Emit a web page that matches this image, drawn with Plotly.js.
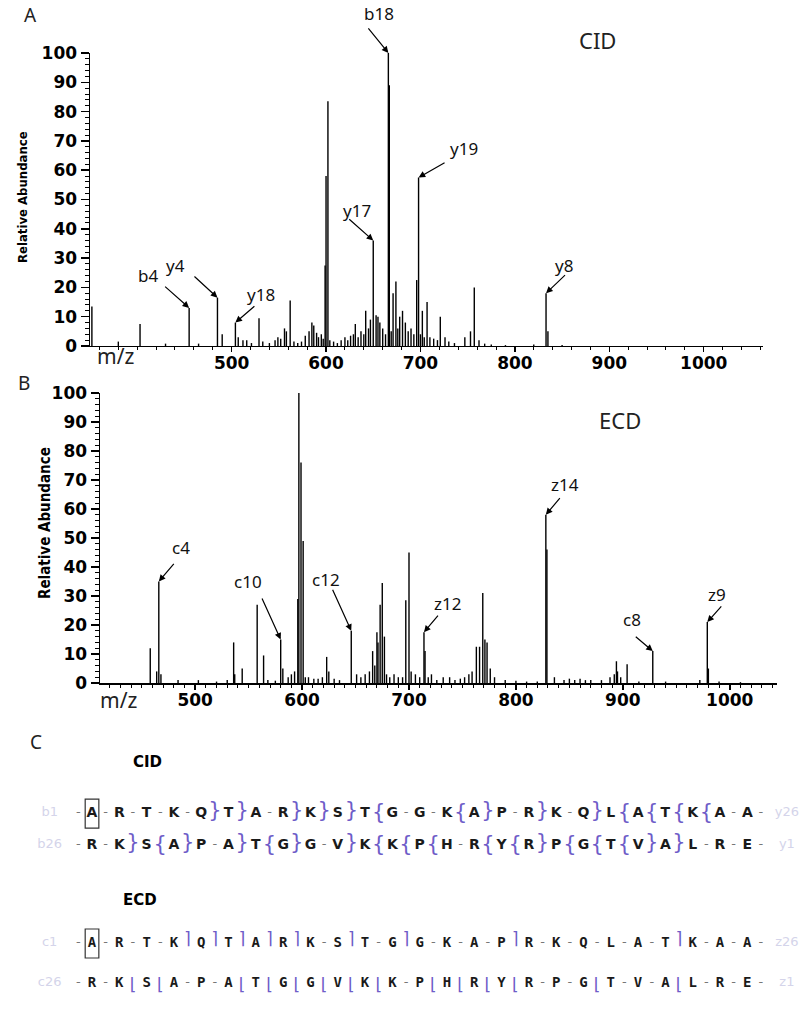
<!DOCTYPE html>
<html>
<head>
<meta charset="utf-8">
<script src="https://cdn.plot.ly/plotly-3.0.1.min.js"></script>
<style>
  body { margin: 0; background: #fff; }
  #plot { width: 800px; height: 1017px; }
</style>
</head>
<body>
<div id="plot"></div>
<script>
// CID spectrum (panel A): m/z and relative abundance
var cidMz = [352, 380, 403, 430, 455, 465, 485, 490, 504, 507, 512, 516, 521, 529, 533, 540, 546, 549, 552, 556,
  558, 562, 566, 570, 574, 578, 582, 585, 587, 590, 592, 595, 597, 599, 600, 602, 604, 608, 612, 616,
  620, 623, 626, 629, 631, 634, 637, 640, 642, 645, 647, 650, 653, 655, 657, 660, 663, 666, 667, 669,
  671, 674, 676, 678, 681, 684, 687, 690, 693, 696, 698, 700, 702, 704, 707, 710, 714, 718, 721, 726,
  730, 736, 747, 753, 757, 762, 768, 775, 790, 820, 833, 835, 850];
var cidInt = [13.5, 1.5, 7.5, 0.8, 13, 0.8, 16.5, 4, 8, 3, 2, 2, 1, 9.5, 1.5, 1, 2, 3, 2.5, 6,
  5, 15.5, 1.5, 1, 1.5, 3.5, 5, 8, 7, 4.5, 3, 4, 2.5, 27.5, 58, 83.5, 2, 1.5, 1, 2,
  3, 2, 3.5, 4, 7.5, 3, 5, 4, 12, 6, 9, 36, 10.5, 10, 8, 6, 4, 100, 89, 5,
  18, 22, 6, 10, 12, 8, 5, 6, 4, 22.5, 57.5, 4, 12, 3, 15, 3, 2.5, 2, 10, 3,
  1.5, 1, 3, 5, 20, 2, 0.8, 0.5, 0.3, 0.5, 18, 5, 0.3];

// ECD spectrum (panel B)
var ecdMz = [458, 464, 466, 468, 484, 503, 520, 530, 536, 537, 544, 558, 564, 568, 575, 580, 582, 587, 590, 593,
  596, 597, 599, 601, 603, 606, 611, 615, 619, 623, 625, 630, 635, 646, 651, 655, 659, 663, 666, 668,
  670, 671, 673, 675, 677, 679, 682, 686, 690, 694, 697, 700, 702, 706, 710, 714, 715, 718, 721, 726,
  732, 738, 743, 748, 752, 756, 759, 763, 766, 769, 771, 773, 776, 780, 790, 800, 810, 820, 828, 829,
  836, 845, 850, 855, 860, 865, 870, 880, 888, 892, 894, 895, 898, 904, 915, 928, 940, 972, 979, 980,
  990, 1010];
var ecdInt = [12, 4, 35, 3, 1, 1, 0.5, 1, 14, 3, 5, 27, 9.5, 1, 0.8, 15, 5, 2, 3, 4,
  29, 100, 76, 49, 2, 2, 1.5, 1.5, 2, 9, 4, 1.5, 1, 18, 3, 2, 3, 4, 11, 6,
  17.5, 14, 27, 34.5, 16, 3, 2, 3, 2, 2, 28.5, 45, 4, 3, 2, 17.5, 11, 2, 3, 1,
  2, 2, 1, 1.5, 2, 3, 4, 12.5, 12.5, 31, 15, 14, 5, 2, 1, 0.8, 0.5, 0.5, 58, 46,
  2, 1, 1.5, 1, 1.5, 1, 1, 1, 2, 3, 7.5, 4, 2, 6.5, 0.5, 11, 0.5, 1, 21, 5,
  0.5, 0.3];

// annotated fragment ions
var cidIons = ['b4', 'y4', 'y18', 'y17', 'b18', 'y19', 'y8'];
var cidIonMz = [455, 485, 504, 650, 666, 698, 833];
var cidIonInt = [13, 16.5, 8, 36, 100, 57.5, 18];
var ecdIons = ['c4', 'c10', 'c12', 'z12', 'z14', 'c8', 'z9'];
var ecdIonMz = [466, 580, 646, 714, 828, 928, 979];
var ecdIonInt = [35, 15, 18, 17.5, 58, 11, 21];

// panel C: sequence and cleavage sites
var seqRow1 = ['A','R','T','K','Q','T','A','R','K','S','T','G','G','K','A','P','R','K','Q','L','A','T','K','A','A'];
var seqRow2 = ['R','K','S','A','P','A','T','G','G','V','K','K','P','H','R','Y','R','P','G','T','V','A','L','R','E'];
var cidGaps1 = ['-','-','-','-','b','b','-','b','b','b','y','-','-','y','b','-','b','-','b','y','y','y','y','-'];
var cidGaps2 = ['-','b','y','b','-','b','y','b','-','b','y','y','y','-','y','y','b','y','y','y','b','b','-','-'];
var ecdGaps1 = ['-','-','-','c','c','c','c','c','-','c','-','c','-','-','-','c','-','-','-','-','-','c','-','-'];
var ecdGaps2 = ['-','z','z','-','-','z','z','z','z','z','z','-','z','z','z','z','-','-','z','-','-','z','-','-'];
var endLabels = [['b1', 'y26'], ['b26', 'y1'], ['c1', 'z26'], ['c26', 'z1']];

var glyph = { '-': '-', 'b': '}', 'y': '{', 'c': '\u2309', 'z': '\u230A' };
var lift = { 'b': 1, 'y': -1, 'c': 3, 'z': -3 };
var purple = '#6e5cc8';

function sticks(mz, inten) {
  var xs = [], ys = [];
  for (var i = 0; i < mz.length; i++) {
    xs.push(mz[i], mz[i], null);
    ys.push(0, inten[i], null);
  }
  return { x: xs, y: ys };
}

var a = sticks(cidMz, cidInt);
var b = sticks(ecdMz, ecdInt);
var data = [
  { x: a.x, y: a.y, xaxis: 'x', yaxis: 'y', type: 'scatter', mode: 'lines',
    line: { color: '#000', width: 1.4 }, cliponaxis: false, hoverinfo: 'skip' },
  { x: b.x, y: b.y, xaxis: 'x2', yaxis: 'y2', type: 'scatter', mode: 'lines',
    line: { color: '#000', width: 1.4 }, cliponaxis: false, hoverinfo: 'skip' }
];

// sequence rows
var rowY = [204, 172, 74, 34];
var rows = [
  { seq: seqRow1, gaps: cidGaps1, font: 'DejaVu Sans', markSize: 21 },
  { seq: seqRow2, gaps: cidGaps2, font: 'DejaVu Sans', markSize: 21 },
  { seq: seqRow1, gaps: ecdGaps1, font: 'DejaVu Sans Mono', markSize: 17 },
  { seq: seqRow2, gaps: ecdGaps2, font: 'DejaVu Sans Mono', markSize: 17 }
];
rows.forEach(function (r, k) {
  var idx = r.seq.map(function (s, i) { return i; });
  data.push({ x: idx, y: idx.map(function () { return rowY[k]; }), text: r.seq,
    xaxis: 'x3', yaxis: 'y3', type: 'scatter', mode: 'text', cliponaxis: false,
    textfont: { family: r.font, size: 14, color: '#1a1a1a', weight: 'bold' }, hoverinfo: 'skip' });
  var dx = [-0.5], mx = [], my = [], mt = [];
  r.gaps.forEach(function (g, i) {
    if (g === '-') dx.push(i + 0.5);
    else { mx.push(i + 0.5); my.push(rowY[k] + lift[g]); mt.push(glyph[g]); }
  });
  dx.push(r.seq.length - 0.5);
  data.push({ x: dx, y: dx.map(function () { return rowY[k]; }), text: dx.map(function () { return '-'; }),
    xaxis: 'x3', yaxis: 'y3', type: 'scatter', mode: 'text', cliponaxis: false,
    textfont: { family: 'DejaVu Sans', size: 13, color: '#777' }, hoverinfo: 'skip' });
  data.push({ x: mx, y: my, text: mt,
    xaxis: 'x3', yaxis: 'y3', type: 'scatter', mode: 'text', cliponaxis: false,
    textfont: { family: 'DejaVu Sans', size: r.markSize, color: purple }, hoverinfo: 'skip' });
  data.push({ x: [-1.55, r.seq.length + 0.45], y: [rowY[k], rowY[k]], text: endLabels[k],
    xaxis: 'x3', yaxis: 'y3', type: 'scatter', mode: 'text', cliponaxis: false,
    textfont: { family: 'DejaVu Sans', size: 13, color: '#d4d4ea' }, hoverinfo: 'skip' });
});

var tickFont = { family: 'DejaVu Sans', size: 17, color: '#000', weight: 'bold' };
function yAx(domain, anchor) {
  return {
    domain: domain, anchor: anchor, range: [0, 100], tickmode: 'array',
    tickvals: [0, 10, 20, 30, 40, 50, 60, 70, 80, 90, 100],
    showline: true, linecolor: '#000', linewidth: 1.5, ticks: 'outside', ticklen: 8,
    tickwidth: 1.5, tickcolor: '#000', showgrid: false, zeroline: false,
    tickfont: tickFont, ticklabelstandoff: 0,
    minor: { dtick: 2, ticks: 'outside', ticklen: 4, tickcolor: '#000', tickwidth: 1, showgrid: false }
  };
}
function xAx(domain, anchor, range, minorStep) {
  return {
    domain: domain, anchor: anchor, range: range, tickmode: 'array',
    tickvals: [500, 600, 700, 800, 900, 1000],
    showline: true, linecolor: '#000', linewidth: 1.5, ticks: 'outside', ticklen: 5,
    tickwidth: 1.5, tickcolor: '#000', showgrid: false, zeroline: false,
    tickfont: tickFont, ticklabelstandoff: -4,
    minor: { tick0: 0, dtick: minorStep, ticks: 'outside', ticklen: 3, tickcolor: '#000', tickwidth: 1, showgrid: false }
  };
}

var labelFont = { family: 'Noto Sans', size: 17, color: '#111' };
var annotations = [];
function ionNotes(names, mz, inten, xref, yref, arrowOff, textOff) {
  names.forEach(function (n, i) {
    annotations.push({ x: mz[i], y: inten[i], xref: xref, yref: yref, text: ' ', font: { size: 2 },
      showarrow: true, ax: arrowOff[i][0], ay: arrowOff[i][1], arrowhead: 2, arrowsize: 1.1,
      arrowwidth: 1.2, arrowcolor: '#000', standoff: 0 });
    annotations.push({ x: mz[i], y: inten[i], xref: xref, yref: yref, text: n, font: labelFont,
      showarrow: false, xshift: textOff[i][0], yshift: textOff[i][1] });
  });
}
ionNotes(cidIons, cidIonMz, cidIonInt, 'x', 'y',
  [[-26, -23], [-25, -23], [21, -18], [-26, -23], [-22, -27], [28, -16], [21, -20]],
  [[-41, 32], [-42, 32], [26, 28], [-16, 30], [-9, 39], [45, 29], [18, 28]]);
ionNotes(ecdIons, ecdIonMz, ecdIonInt, 'x2', 'y2',
  [[17, -20], [-20, -44], [-20, -44], [16, -19], [16, -19], [-19, -16], [16, -18]],
  [[22, 34], [-33, 58], [-25, 51], [24, 29], [19, 30], [-21, 32], [10, 28]]);

function paperText(t, px, py, font, extra) {
  var o = { text: t, x: px / 800, y: 1 - py / 1017, xref: 'paper', yref: 'paper',
    showarrow: false, font: font, xanchor: 'center', yanchor: 'middle' };
  for (var k in extra) o[k] = extra[k];
  annotations.push(o);
}
var light = { family: 'Noto Sans', size: 19, color: '#222' };
paperText('A', 30, 15, light);
paperText('B', 24, 383, light);
paperText('C', 36, 742, light);
paperText('CID', 597, 40, { family: 'Noto Sans', size: 22, color: '#222' });
paperText('ECD', 620, 420, { family: 'Noto Sans', size: 22, color: '#222' });
paperText('m/z', 116, 356, { family: 'Noto Sans', size: 21, color: '#222' });
paperText('m/z', 118, 700, { family: 'Noto Sans', size: 21, color: '#222' });
var condensed = 'DejaVu Sans Condensed, Liberation Sans, sans-serif';
paperText('Relative Abundance', 22, 197, { family: condensed, size: 13, color: '#000', weight: 'bold' }, { textangle: -90 });
paperText('Relative Abundance', 45, 523, { family: condensed, size: 15, color: '#000', weight: 'bold' }, { textangle: -90 });
var cTitle = { family: 'DejaVu Sans', size: 15, color: '#000', weight: 'bold' };
paperText('CID', 147, 762, cTitle);
paperText('ECD', 140, 900, cTitle);

var layout = {
  width: 800, height: 1017,
  margin: { l: 0, r: 0, t: 0, b: 0 },
  paper_bgcolor: '#fff', plot_bgcolor: 'rgba(0,0,0,0)',
  showlegend: false,
  xaxis: xAx([0.1125, 0.954], 'y', [350, 1063], 20),
  yaxis: yAx([0.6598, 0.9479], 'x'),
  xaxis2: xAx([0.125, 0.971], 'y2', [411, 1044], 10),
  yaxis2: yAx([0.3284, 0.6136], 'x2'),
  xaxis3: { domain: [0, 1], anchor: 'y3', range: [-3.37, 25.93], visible: false },
  yaxis3: { domain: [0, 0.29], anchor: 'x3', range: [0, 295], visible: false },
  shapes: [
    { type: 'rect', xref: 'x3', yref: 'y3', x0: -0.25, x1: 0.25, y0: rowY[0] - 15, y1: rowY[0] + 14,
      line: { color: '#333', width: 1.2 } },
    { type: 'rect', xref: 'x3', yref: 'y3', x0: -0.25, x1: 0.25, y0: rowY[2] - 15, y1: rowY[2] + 14,
      line: { color: '#333', width: 1.2 } }
  ],
  annotations: annotations
};

Plotly.newPlot('plot', data, layout, { staticPlot: true });
</script>
</body>
</html>
